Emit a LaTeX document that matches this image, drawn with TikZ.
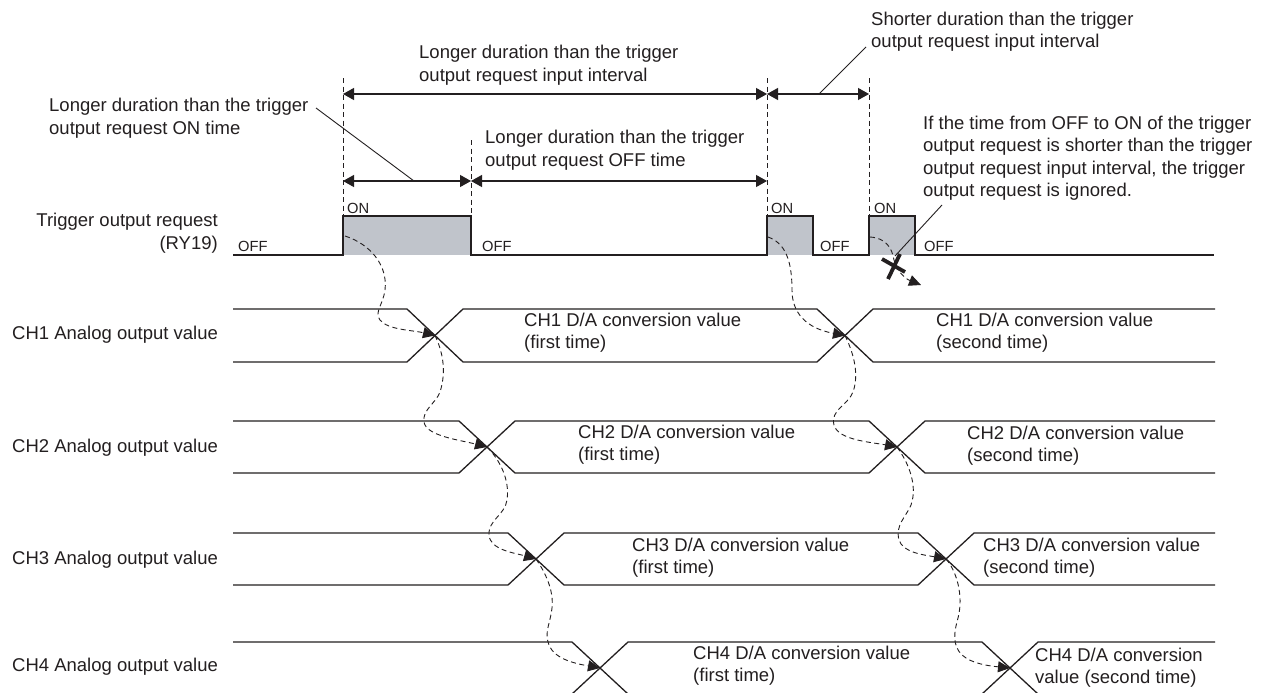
\documentclass[tikz,border=0pt]{standalone}
\usepackage{fontspec}
\setmainfont{Liberation Sans}
\usetikzlibrary{arrows.meta}
\definecolor{lc}{RGB}{35,31,32}
\definecolor{pulsefill}{RGB}{192,196,203}
\begin{document}
\begin{tikzpicture}[x=1pt,y=-1pt,
  wave/.style={draw=lc, line width=1.3pt},
  guide/.style={draw=lc, line width=0.9pt, dash pattern=on 5pt off 3.5pt},
  dim/.style={draw=lc, line width=1.2pt, {Triangle[length=11pt,width=12pt]}-{Triangle[length=11pt,width=12pt]}},
  cause/.style={draw=lc, line width=0.9pt, dash pattern=on 5pt off 3.5pt, -{Triangle[length=12pt,width=11pt]}},
  leader/.style={draw=lc, line width=0.9pt},
  lbl/.style={inner sep=0pt, font=\fontsize{18.5}{22.5}\selectfont, text=lc, align=left, anchor=north west, yshift=9.15pt, execute at begin node=\strut},
  rlbl/.style={lbl, align=right, anchor=north east},
  sm/.style={inner sep=0pt, font=\fontsize{14.7}{17}\selectfont, text=lc, anchor=base west, yshift=-5.3pt},
]
\useasboundingbox (0,0) rectangle (1266,693);
\fill[white] (0,0) rectangle (1266,693);
\begin{scope}
\clip (0,0) rectangle (1266,693);

% trigger pulses
\fill[pulsefill] (343,216) rectangle (471,255);
\fill[pulsefill] (767,216) rectangle (813,255);
\fill[pulsefill] (869,216) rectangle (915,255);
\draw[wave] (233,255) -- (343,255) -- (343,216) -- (471,216) -- (471,255) -- (767,255) -- (767,216) -- (813,216) -- (813,255) -- (869,255) -- (869,216) -- (915,216) -- (915,255) -- (1214,255);

% channel buses
\foreach \n/\t/\b/\xa/\xb in {1/309/362/435/845, 2/421/473/487/897, 3/533/585/536/946, 4/642/694/600/1010} {
  \draw[wave] (233,\t) -- ({\xa-28},\t) -- ({\xa+28},\b) -- ({\xb-28},\b) -- ({\xb+28},\t) -- (1215,\t);
  \draw[wave] (233,\b) -- ({\xa-28},\b) -- ({\xa+28},\t) -- ({\xb-28},\t) -- ({\xb+28},\b) -- (1215,\b);
  \coordinate (x\n a) at (\xa,{(\t+\b)/2});
  \coordinate (x\n b) at (\xb,{(\t+\b)/2});
}

% guide lines
\coordinate (g1t) at (343,78);  \coordinate (g1b) at (343,216);
\coordinate (g2t) at (471,140); \coordinate (g2b) at (471,216);
\coordinate (g3t) at (767,78);  \coordinate (g3b) at (767,216);
\coordinate (g4t) at (869,78);  \coordinate (g4b) at (869,216);
\draw[guide] (g1t) -- (g1b);
\draw[guide] (g2t) -- (g2b);
\draw[guide] (g3t) -- (g3b);
\draw[guide] (g4t) -- (g4b);

% dimension arrows
\coordinate (a1) at (343,94); \coordinate (a3) at (767,94); \coordinate (a4) at (869,94);
\coordinate (b1) at (343,181); \coordinate (b2) at (471,181); \coordinate (b3) at (767,181);
\draw[dim] (a1) -- (a3);
\draw[dim] (a3) -- (a4);
\draw[dim] (b1) -- (b2);
\draw[dim] (b2) -- (b3);

% texts
\node[lbl] (tin) at (419,54.3) {Longer duration than the trigger\\output request input interval};
\node[lbl] (toff) at (485,139.3) {Longer duration than the trigger\\output request OFF time};
\node[lbl] (ton) at (49,107.3) {Longer duration than the trigger\\output request ON time};
\node[lbl] (tshort) at (871,20.7) {Shorter duration than the trigger\\output request input interval};
\node[lbl] (tign) at (923,125) {If the time from OFF to ON of the trigger\\output request is shorter than the trigger\\output request input interval, the trigger\\output request is ignored.};
\node[rlbl] (trig) at (218,222.3) {Trigger output request\\(RY19)};

\node[lbl] (ch1) at (12,333) {CH1 Analog output value};
\node[lbl] (ch2) at (12,446) {CH2 Analog output value};
\node[lbl] (ch3) at (12,558) {CH3 Analog output value};
\node[lbl] (ch4) at (12,665) {CH4 Analog output value};

\node[lbl] (v1a) at (524,322) {CH1 D/A conversion value\\(first time)};
\node[lbl] (v1b) at (936,322) {CH1 D/A conversion value\\(second time)};
\node[lbl] (v2a) at (578,434) {CH2 D/A conversion value\\(first time)};
\node[lbl] (v2b) at (967,435) {CH2 D/A conversion value\\(second time)};
\node[lbl] (v3a) at (632,547) {CH3 D/A conversion value\\(first time)};
\node[lbl] (v3b) at (983,547) {CH3 D/A conversion value\\(second time)};
\node[lbl] (v4a) at (693,655) {CH4 D/A conversion value\\(first time)};
\node[lbl] (v4b) at (1035,657) {CH4 D/A conversion\\value (second time)};

\node[sm] (off1) at (238,246) {OFF};
\node[sm] (off2) at (482,246) {OFF};
\node[sm] (off3) at (820,246) {OFF};
\node[sm] (off4) at (924,246) {OFF};
\node[sm] (on1) at (347,208) {ON};
\node[sm] (on2) at (771,208) {ON};
\node[sm] (on3) at (874,208) {ON};

% leaders
\coordinate (lon1) at (316,108); \coordinate (lon2) at (414,181);
\coordinate (ls1) at (866,47);   \coordinate (ls2) at (819,94);
\coordinate (li1) at (942,205);  \coordinate (li2) at (895,256);
\draw[leader] (lon1) -- (lon2);
\draw[leader] (ls1) -- (ls2);
\draw[leader] (li1) -- (li2);

% cause curves
\coordinate (p1s) at (345,236);
\coordinate (p2s) at (768,237);
\coordinate (p3s) at (870,237);
\coordinate (p3e) at (921,285);
\draw[cause] (p1s) .. controls (370,244) and (388,265) .. (385,290) .. controls (383,305) and (374,312) .. (380,320) .. controls (388,330) and (412,330) .. (x1a);
\draw[cause] (x1a) .. controls (442,350) and (447,370) .. (440,392) .. controls (436,403) and (422,410) .. (424,422) .. controls (426,436) and (460,440) .. (x2a);
\draw[cause] (x2a) .. controls (500,460) and (510,480) .. (507,500) .. controls (505,515) and (488,520) .. (489,535) .. controls (490,550) and (515,553) .. (x3a);
\draw[cause] (x3a) .. controls (545,572) and (554,590) .. (552,608) .. controls (550,625) and (544,632) .. (549,645) .. controls (555,660) and (578,664) .. (x4a);

\draw[cause] (p2s) .. controls (785,243) and (792,260) .. (792,290) .. controls (792,312) and (805,328) .. (x1b);
\draw[cause] (x1b) .. controls (852,350) and (860,372) .. (853,392) .. controls (848,405) and (830,410) .. (834,425) .. controls (838,440) and (870,442) .. (x2b);
\draw[cause] (x2b) .. controls (908,462) and (918,485) .. (911,505) .. controls (906,517) and (895,525) .. (899,540) .. controls (903,553) and (925,555) .. (x3b);
\draw[cause] (x3b) .. controls (956,570) and (964,595) .. (958,618) .. controls (954,632) and (952,645) .. (962,655) .. controls (972,664) and (990,666) .. (x4b);

\draw[cause] (p3s) .. controls (886,238) and (892,248) .. (894,260) .. controls (897,272) and (906,279) .. (p3e);

% ignore cross
\draw[draw=lc, line width=3.8pt] (882,259) -- (905,272);
\draw[draw=lc, line width=3.8pt] (900,254) -- (888,279);
\end{scope}
\end{tikzpicture}
\end{document}
